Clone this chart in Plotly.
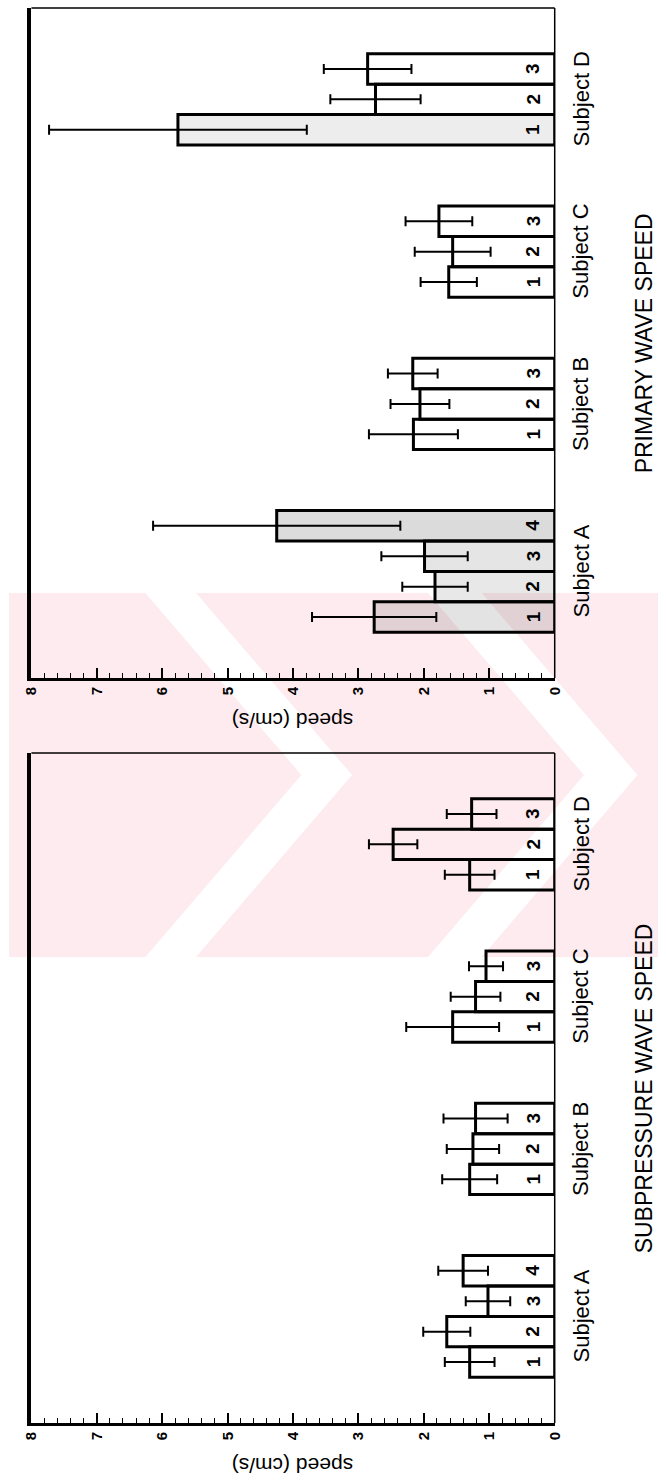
import plotly.graph_objects as go

# ---- data -------------------------------------------------------------
subjects = ["Subject A", "Subject B", "Subject C", "Subject D"]
trials_per_subject = [4, 3, 3, 3]

# primary wave speed (cm/s), trials in order 1..n for each subject
primary_speed = [2.76, 1.83, 1.99, 4.25,
                 2.16, 2.06, 2.17,
                 1.62, 1.56, 1.77,
                 5.76, 2.74, 2.86]
primary_err = [0.95, 0.50, 0.66, 1.89,
               0.68, 0.45, 0.38,
               0.43, 0.58, 0.51,
               1.97, 0.69, 0.67]

# subpressure wave speed (cm/s)
sub_speed = [1.30, 1.65, 1.02, 1.40,
             1.30, 1.25, 1.21,
             1.56, 1.21, 1.05,
             1.30, 2.47, 1.27]
sub_err = [0.38, 0.36, 0.34, 0.38,
           0.42, 0.40, 0.49,
           0.71, 0.38, 0.26,
           0.38, 0.37, 0.38]

panel_titles = ["PRIMARY WAVE SPEED", "SUBPRESSURE WAVE SPEED"]
speed_ticks = [0, 1, 2, 3, 4, 5, 6, 7, 8]

# shaded bars in the primary panel (A1-A4 and D1); the rest are open
CLEAR = "rgba(255,255,255,0)"
primary_fill = ["rgba(0,0,0,0.11)", "rgba(0,0,0,0.09)", "rgba(0,0,0,0.10)",
                "rgba(0,0,0,0.14)",
                CLEAR, CLEAR, CLEAR,
                CLEAR, CLEAR, CLEAR,
                "rgba(0,0,0,0.07)", CLEAR, CLEAR]
sub_fill = [CLEAR] * 13

# ---- slot positions: bars touch inside a group, two empty slots between
positions, trial_labels, group_centres = [], [], []
start = 0
for n in trials_per_subject:
    slots = list(range(start, start + n))
    positions += slots
    trial_labels += [str(i + 1) for i in range(n)]
    group_centres.append((slots[0] + slots[-1]) / 2)
    start += n + 2

W, H = 666, 1481


def px(x, y):
    """pixel position on the page -> paper coordinates"""
    return x / W, 1 - y / H


x_dom = [23 / W, 560 / W]
panels = [
    dict(speed=primary_speed, err=primary_err, fill=primary_fill,
         top=8, bottom=678, title=panel_titles[0], ax=""),
    dict(speed=sub_speed, err=sub_err, fill=sub_fill,
         top=753, bottom=1423, title=panel_titles[1], ax="2"),
]

FONT = "Liberation Sans, Arial, Helvetica, sans-serif"
fig = go.Figure()
annotations, shapes = [], []

# pale pink stamp behind the figure, with white chevron stripes
PINK = "#fdebef"
band_top, band_bot, apex_y = 593, 957, 775
x0, y0 = px(0, band_top)
x1, y1 = px(W, band_bot)
shapes.append(dict(type="rect", xref="paper", yref="paper", x0=x0, x1=x1,
                   y0=y1, y1=y0, fillcolor=PINK, line=dict(width=0),
                   layer="below"))
for apex_x, w in [(300, 52), (590, 55)]:
    pts = [(apex_x - 160, band_top), (apex_x, apex_y), (apex_x - 160, band_bot),
           (apex_x - 160 + w, band_bot), (apex_x + w, apex_y),
           (apex_x - 160 + w, band_top)]
    path = "M " + " L ".join("%.5f,%.5f" % px(a, b) for a, b in pts) + " Z"
    shapes.append(dict(type="path", xref="paper", yref="paper", path=path,
                       fillcolor="white", line=dict(width=0), layer="below"))

layout = dict(width=W, height=H, autosize=False,
              margin=dict(l=0, r=0, t=0, b=0),
              paper_bgcolor="white", plot_bgcolor="rgba(0,0,0,0)",
              showlegend=False, font=dict(family=FONT, color="black"))

for p in panels:
    xa, ya = "x" + p["ax"], "y" + p["ax"]
    fig.add_trace(go.Bar(
        x=p["speed"], y=positions, orientation="h", width=1.0,
        xaxis=xa, yaxis=ya,
        marker=dict(color=p["fill"], line=dict(color="black", width=3)),
        error_x=dict(type="data", array=p["err"], visible=True,
                     color="black", thickness=2, width=5),
        hoverinfo="x+y",
    ))
    y_dom = [1 - p["bottom"] / H, 1 - p["top"] / H]
    layout["xaxis" + p["ax"]] = dict(
        domain=x_dom, anchor=ya, range=[8, 0],
        tickvals=speed_ticks, ticks="inside", ticklen=10, tickwidth=1.5,
        tickcolor="black", tickangle=-90,
        tickfont=dict(size=15, family=FONT, weight="bold"),
        minor=dict(dtick=0.2, ticks="inside", ticklen=5, tickwidth=1.2,
                   tickcolor="black"),
        showline=True, linewidth=3, linecolor="black",
        showgrid=False, zeroline=False, fixedrange=True,
    )
    layout["yaxis" + p["ax"]] = dict(
        domain=y_dom, anchor=xa, range=[-2, 20],
        showticklabels=False, ticks="", showgrid=False, zeroline=False,
        showline=True, linewidth=4, linecolor="black", fixedrange=True,
    )
    xd, yd = xa + " domain", ya + " domain"
    # thin top border and thin baseline at speed 0
    shapes.append(dict(type="line", xref=xd, yref=yd, x0=0, x1=1, y0=1, y1=1,
                       line=dict(color="black", width=1.5)))
    shapes.append(dict(type="line", xref=xd, yref=yd, x0=1, x1=1, y0=0, y1=1,
                       line=dict(color="black", width=1.5)))
    centred = dict(showarrow=False, xanchor="center", yanchor="middle")
    # trial numbers inside each bar near the baseline
    for pos, lab in zip(positions, trial_labels):
        annotations.append(dict(x=0.33, y=pos, xref=xa, yref=ya, text=lab,
                                textangle=-90,
                                font=dict(size=19, family=FONT, weight="bold"),
                                **centred))
    # subject names beside each group
    for c, name in zip(group_centres, subjects):
        annotations.append(dict(x=587 / W, y=c, xref="paper", yref=ya,
                                text=name, textangle=-90,
                                font=dict(size=22, family=FONT), **centred))
    # panel title
    annotations.append(dict(x=652 / W, y=(y_dom[0] + y_dom[1]) / 2,
                            xref="paper", yref="paper", text=p["title"],
                            textangle=-90, font=dict(size=23, family=FONT),
                            **centred))
    # axis title, printed upside down
    annotations.append(dict(x=4, y=1 - (p["bottom"] + 43) / H, xref=xa,
                            yref="paper", text="speed (cm/s)", textangle=180,
                            font=dict(size=21, family=FONT), **centred))

layout["annotations"] = annotations
layout["shapes"] = shapes
fig.update_layout(**layout)
fig.write_html("out.html")
